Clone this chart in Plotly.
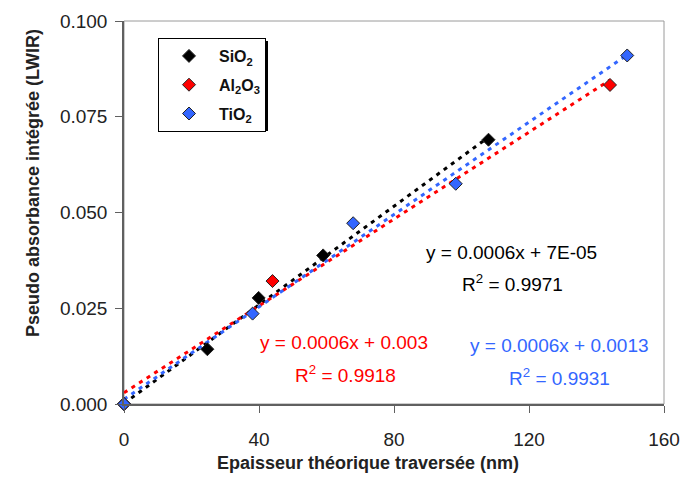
import numpy as np
import plotly.graph_objects as go

# ---- data ----
sio2_x = [0, 24.7, 39.9, 59.0, 108.0]
sio2_y = [0.0, 0.0143, 0.0277, 0.0388, 0.0690]
al2o3_x = [0, 44.0, 144.0]
al2o3_y = [0.0, 0.0321, 0.0833]
tio2_x = [0, 38.1, 67.9, 98.3, 149.1]
tio2_y = [0.0, 0.0236, 0.0472, 0.0575, 0.0910]

series_names = ["SiO<sub>2</sub>", "Al<sub>2</sub>O<sub>3</sub>", "TiO<sub>2</sub>"]
series_colors = ["#000000", "#FF0000", "#3366FF"]
eq_texts = ["y = 0.0006x + 7E-05", "y = 0.0006x + 0.003", "y = 0.0006x + 0.0013"]
r2_texts = ["R<sup>2</sup> = 0.9971", "R<sup>2</sup> = 0.9918", "R<sup>2</sup> = 0.9931"]
x_ticks = [0, 40, 80, 120, 160]
y_ticks = [0.0, 0.025, 0.05, 0.075, 0.1]
y_tick_labels = ["0.000", "0.025", "0.050", "0.075", "0.100"]

W, H = 682, 484
ML, MR, MT, MB = 124, 18, 21, 80
PW, PH = W - ML - MR, H - MT - MB
FONT = "Arial, Liberation Sans, sans-serif"

def px_x(px):
    return (px - ML) / PW

def px_y(py):
    return (H - MB - py) / PH

fig = go.Figure()

all_x = [sio2_x, al2o3_x, tio2_x]
all_y = [sio2_y, al2o3_y, tio2_y]

# trend lines (linear fits of each series)
for xs, ys, col in zip(all_x, all_y, series_colors):
    a, b = np.polyfit(xs, ys, 1)
    xx = np.array([0, max(xs)])
    fig.add_trace(go.Scatter(
        x=xx, y=a * xx + b, mode="lines", showlegend=False, hoverinfo="skip",
        line=dict(color=col, width=3, dash="4px,5px"), cliponaxis=False))

# markers
for i, (xs, ys, col, nm) in enumerate(zip(all_x, all_y, series_colors, series_names)):
    fig.add_trace(go.Scatter(
        x=xs, y=ys, mode="markers", name=nm, legendgroup=f"g{i}",
        marker=dict(symbol="diamond", size=10, color=col,
                    line=dict(color="#222222", width=1)),
        cliponaxis=False))

# equations
eq_pos = [((511, 252), (512, 283)), ((344, 342), (345, 374)), ((559, 345), (559, 377))]
for (p1, p2), col, t1, t2 in zip(eq_pos, series_colors, eq_texts, r2_texts):
    for (px, py), t in ((p1, t1), (p2, t2)):
        fig.add_annotation(x=px_x(px), y=px_y(py), xref="paper", yref="paper",
                           text=t, showarrow=False, xanchor="center", yanchor="middle",
                           font=dict(family=FONT, size=19, color=col))

# axis titles
fig.add_annotation(x=px_x(33), y=px_y(183), xref="paper", yref="paper",
                   text="Pseudo absorbance intégrée (LWIR)", textangle=-90,
                   showarrow=False, xanchor="center", yanchor="middle",
                   font=dict(family=FONT, size=18, color="#222222", weight="bold"))
fig.add_annotation(x=px_x(368), y=px_y(463), xref="paper", yref="paper",
                   text="Epaisseur théorique traversée (nm)",
                   showarrow=False, xanchor="center", yanchor="middle",
                   font=dict(family=FONT, size=18, color="#222222", weight="bold"))

# plot frame (top/right)
fig.add_shape(type="rect", xref="paper", yref="paper", x0=0, y0=0, x1=1, y1=1,
              line=dict(color="#9a9a9a", width=1), layer="below")

# legend shadow (right and bottom strips)
LX0, LY0, LX1, LY1 = 158, 38, 265, 128
fig.add_shape(type="rect", xref="paper", yref="paper",
              x0=px_x(LX1), x1=px_x(LX1 + 3), y0=px_y(LY1 + 3), y1=px_y(LY0 + 3),
              line=dict(width=0), fillcolor="#000000", layer="above")
fig.add_shape(type="rect", xref="paper", yref="paper",
              x0=px_x(LX0 + 3), x1=px_x(LX1 + 3), y0=px_y(LY1 + 3), y1=px_y(LY1),
              line=dict(width=0), fillcolor="#000000", layer="above")

fig.update_layout(
    width=W, height=H,
    margin=dict(l=ML, r=MR, t=MT, b=MB, autoexpand=False),
    plot_bgcolor="white", paper_bgcolor="white",
    font=dict(family=FONT, color="#222222"),
    showlegend=True,
    legend=dict(x=px_x(LX0), y=px_y(LY0), xanchor="left", yanchor="top",
                bgcolor="white", bordercolor="#000000", borderwidth=1,
                font=dict(family=FONT, size=16, color="#111111", weight="bold"),
                traceorder="grouped", tracegroupgap=5, itemwidth=50),
    xaxis=dict(range=[0, 160], tickvals=x_ticks, ticks="outside", ticklen=7,
               tickcolor="#606060", showline=True, linecolor="#606060", linewidth=1.5,
               showgrid=False, zeroline=False, tickfont=dict(size=19, color="#222222"),
               ticklabelstandoff=10, automargin=False),
    yaxis=dict(range=[0, 0.1], tickvals=y_ticks, ticktext=y_tick_labels, ticks="outside",
               ticklen=7, tickcolor="#606060", showline=True, linecolor="#606060",
               linewidth=1.5, showgrid=False, zeroline=False,
               tickfont=dict(size=19, color="#222222"), ticklabelstandoff=4,
               automargin=False),
)

fig.write_html("out.html", config={"displayModeBar": False},
               post_script="document.body.style.margin='0px';")
